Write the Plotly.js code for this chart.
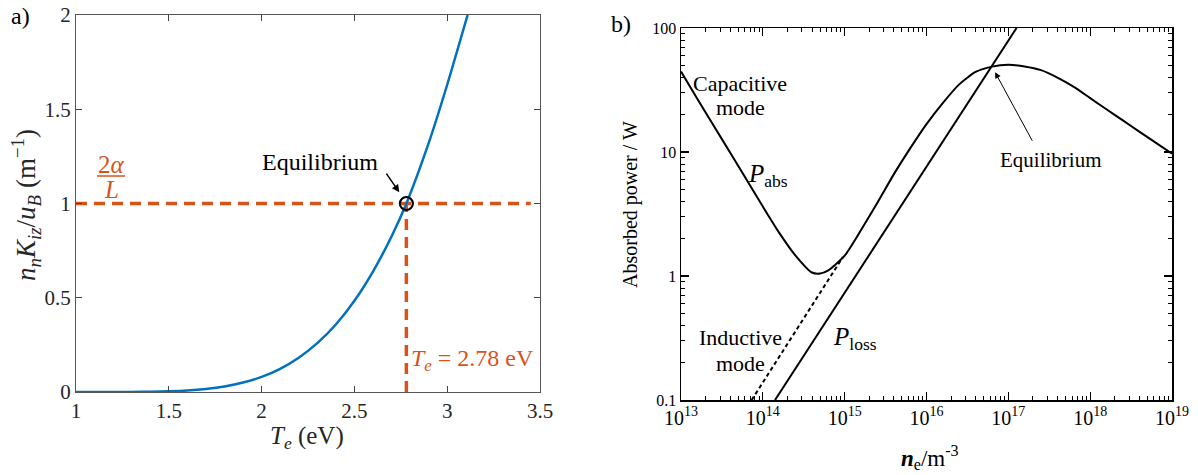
<!DOCTYPE html>
<html><head><meta charset="utf-8">
<script src="https://cdn.plot.ly/plotly-3.0.1.min.js"></script>
<style>
html,body{margin:0;padding:0;background:#fff}
#chart{width:1198px;height:475px}
</style>
</head><body><div id="chart"></div>
<script>
// ---- Panel a) data ----
const Te   = [1.0, 1.1, 1.2, 1.3, 1.4, 1.5, 1.6, 1.7, 1.8, 1.9, 2.0, 2.1, 2.2, 2.3, 2.4, 2.5, 2.6, 2.7, 2.78, 2.9, 3.0, 3.11];
const rate = [0, 0.00005, 0.0002, 0.0006, 0.0017, 0.004, 0.0084, 0.0164, 0.029, 0.050, 0.080, 0.123, 0.182, 0.259, 0.358, 0.484, 0.639, 0.825, 1.0, 1.32, 1.63, 2.0];
const Te_eq = [2.78];
const rate_eq = [1.0];
const Te_hline = [1.0, 3.45];
const rate_hline = [1.0, 1.0];
const Te_vline = [2.78, 2.78];
const rate_vline = [0, 1.0];
const xTicksA = [1, 1.5, 2, 2.5, 3, 3.5];
const yTicksA = [0, 0.5, 1, 1.5, 2];

// ---- Panel b) data ----
const ne_abs = [1e13, 1.58e13, 2.51e13, 3.98e13, 6.31e13, 1e14, 1.58e14, 2.51e14, 3.98e14, 5.01e14, 6.31e14, 1e15, 1.58e15, 2.51e15, 3.98e15, 6.31e15, 1e16, 1.58e16, 2.51e16, 3.98e16, 6.31e16, 1e17, 1.58e17, 2.51e17, 3.98e17, 6.31e17, 1e18, 1.58e18, 2.51e18, 3.98e18, 6.31e18, 1e19];
const P_abs  = [44.5, 26.9, 16.3, 9.9, 6.0, 3.63, 2.24, 1.46, 1.067, 1.047, 1.11, 1.46, 2.34, 3.89, 6.6, 10.7, 16.8, 24.8, 35.1, 44.2, 48.8, 50.5, 49.0, 45.7, 39.8, 33.5, 27.2, 22.1, 18.0, 14.6, 11.9, 9.7];
const ne_ind = [7.3e13, 9.5e14];
const P_ind  = [0.1, 1.42];
const ne_loss = [1.41e14, 1.26e17];
const P_loss  = [0.1, 100];
const eqB_ne = 6.0e16, eqB_P = 48.2;

const W = 1198, H = 475;
const px = x => x / W, py = y => 1 - y / H;
const ORANGE = '#D95319', BLUE = '#0072BD', DARK = '#262626';
const SERIF = 'Times New Roman';

const traces = [
  {x: Te_hline, y: rate_hline, xaxis: 'x', yaxis: 'y', mode: 'lines',
   line: {color: ORANGE, width: 3.5, dash: '11px,7px'}, hoverinfo: 'skip'},
  {x: Te_vline, y: rate_vline, xaxis: 'x', yaxis: 'y', mode: 'lines',
   line: {color: ORANGE, width: 3.5, dash: '11px,7px'}, hoverinfo: 'skip'},
  {x: Te, y: rate, xaxis: 'x', yaxis: 'y', mode: 'lines',
   line: {color: BLUE, width: 2.5, shape: 'spline', smoothing: 0.6}},
  {x: Te_eq, y: rate_eq, xaxis: 'x', yaxis: 'y', mode: 'markers',
   marker: {symbol: 'circle-open', size: 13, color: 'black', line: {width: 2.2, color: 'black'}}},
  {x: ne_abs, y: P_abs, xaxis: 'x2', yaxis: 'y2', mode: 'lines',
   line: {color: 'black', width: 2, shape: 'spline', smoothing: 0.6}},
  {x: ne_ind, y: P_ind, xaxis: 'x2', yaxis: 'y2', mode: 'lines',
   line: {color: 'black', width: 2, dash: '4px,3px'}},
  {x: ne_loss, y: P_loss, xaxis: 'x2', yaxis: 'y2', mode: 'lines',
   line: {color: 'black', width: 2}}
];

const axA = {showgrid: false, zeroline: false, showline: true, linecolor: '#555', linewidth: 1,
  mirror: 'ticks', ticks: 'inside', ticklen: 6, tickcolor: '#444', tickwidth: 1,
  tickfont: {family: SERIF, size: 21, color: DARK}};
const axB = {showgrid: false, zeroline: false, showline: true, linecolor: 'black', linewidth: 1.5,
  mirror: 'ticks', ticks: 'inside', ticklen: 8, tickcolor: 'black', tickwidth: 1.2, type: 'log', dtick: 1,
  minor: {ticks: 'inside', ticklen: 4, tickcolor: 'black', tickwidth: 1, showgrid: false},
  tickfont: {family: SERIF, size: 16, color: 'black'}};

const ann = (x, y, text, size, extra) => Object.assign({xref: 'paper', yref: 'paper', x: px(x), y: py(y),
  text: text, showarrow: false, font: {family: SERIF, size: size, color: 'black'},
  xanchor: 'center', yanchor: 'middle'}, extra || {});

const layout = {
  width: W, height: H, margin: {l: 0, r: 0, t: 0, b: 0}, showlegend: false,
  paper_bgcolor: 'white', plot_bgcolor: 'white',
  xaxis: Object.assign({}, axA, {domain: [px(76), px(540)], range: [1, 3.5], tickvals: xTicksA, anchor: 'y'}),
  yaxis: Object.assign({}, axA, {domain: [py(392), py(15)], range: [0, 2], tickvals: yTicksA, anchor: 'x'}),
  xaxis2: Object.assign({}, axB, {domain: [px(681), px(1172)], range: [13, 19], exponentformat: 'power', anchor: 'y2'}),
  yaxis2: Object.assign({}, axB, {domain: [py(400), py(28)], range: [-1, 2], anchor: 'x2'}),
  shapes: [
    {type: 'line', xref: 'paper', yref: 'paper', x0: px(97), x1: px(125), y0: py(176), y1: py(176),
     line: {color: ORANGE, width: 1.5}}
  ],
  annotations: [
    ann(20, 16, 'a)', 24),
    ann(26, 205, '<i>n</i><sub><i>n</i></sub><i>K</i><sub><i>iz</i></sub>/<i>u</i><sub><i>B</i></sub> (m<sup>−1</sup>)', 27, {textangle: -90, font: {family: SERIF, size: 27, color: DARK}}),
    ann(307, 437, '<i>T</i><sub><i>e</i></sub> (eV)', 25, {font: {family: SERIF, size: 25, color: DARK}}),
    ann(320, 162, 'Equilibrium', 24),
    {xref: 'x', yref: 'y', x: 2.742, y: 1.06, ax: -14, ay: -20, text: '', showarrow: true,
     arrowhead: 2, arrowsize: 1, arrowwidth: 1.5, arrowcolor: 'black'},
    ann(111, 164, '2<i>α</i>', 25, {font: {family: SERIF, size: 25, color: ORANGE}}),
    ann(111, 189, '<i>L</i>', 25, {font: {family: SERIF, size: 25, color: ORANGE}}),
    ann(409, 360, '<i>T</i><sub><i>e</i></sub> = 2.78 eV', 24, {xanchor: 'left', font: {family: SERIF, size: 24, color: ORANGE}}),

    ann(621, 24, 'b)', 24),
    ann(630, 205, 'Absorbed power / W', 20, {textangle: -90}),
    ann(930, 457, '<b><i>n</i></b><sub>e</sub>/m<sup>-3</sup>', 23),
    ann(740, 83, 'Capacitive', 22),
    ann(740, 108, 'mode', 22),
    ann(768, 175, '<i>P</i><sub>abs</sub>', 25),
    ann(740, 337, 'Inductive', 22),
    ann(740, 363, 'mode', 22),
    ann(855, 338, '<i>P</i><sub>loss</sub>', 25),
    ann(1051, 160, 'Equilibrium', 21),
    {xref: 'x2', yref: 'y2', x: Math.log10(eqB_ne) + 0.06, y: Math.log10(eqB_P) - 0.04, ax: 38, ay: 70, text: '', showarrow: true,
     arrowhead: 2, arrowsize: 1.2, arrowwidth: 1, arrowcolor: 'black'}
  ]
};

Plotly.newPlot('chart', traces, layout, {staticPlot: true});
</script>
</body></html>
